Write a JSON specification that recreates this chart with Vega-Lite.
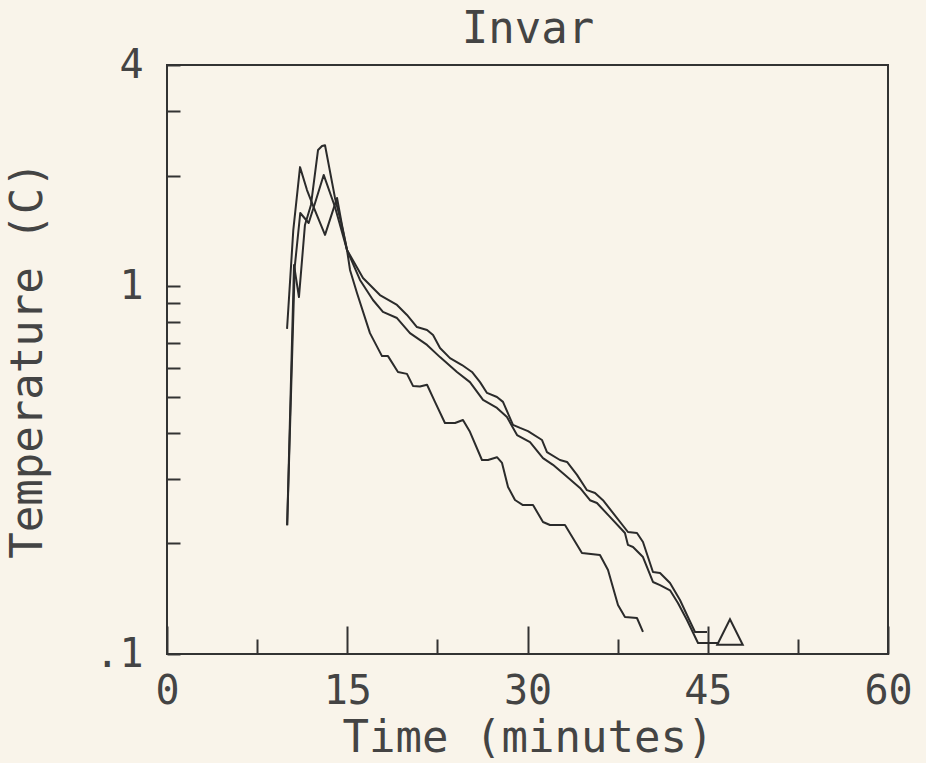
{
  "$schema": "https://vega.github.io/schema/vega-lite/v6.json",
  "autosize": {"type": "none"},
  "width": 721,
  "height": 589,
  "padding": {"left": 167, "top": 65, "right": 38, "bottom": 109},
  "background": "#f9f4ea",
  "config": {
    "view": {"stroke": "#333333", "strokeWidth": 2},
    "axis": {
      "labelFont": "DejaVu Sans Mono",
      "titleFont": "DejaVu Sans Mono",
      "labelColor": "#444444",
      "titleColor": "#444444",
      "tickColor": "#333333",
      "tickWidth": 2,
      "grid": false,
      "domain": false,
      "labelFontWeight": "normal",
      "titleFontWeight": "normal"
    }
  },
  "datasets": {
    "curves": [
      {"s": "A", "t": 10.0, "v": 0.224},
      {"s": "A", "t": 10.63, "v": 1.129},
      {"s": "A", "t": 11.09, "v": 1.583},
      {"s": "A", "t": 11.79, "v": 1.487},
      {"s": "A", "t": 12.32, "v": 1.685},
      {"s": "A", "t": 13.04, "v": 2.009},
      {"s": "A", "t": 13.98, "v": 1.644},
      {"s": "A", "t": 14.98, "v": 1.256},
      {"s": "A", "t": 15.23, "v": 1.108},
      {"s": "A", "t": 15.81, "v": 0.959},
      {"s": "A", "t": 16.89, "v": 0.746},
      {"s": "A", "t": 17.89, "v": 0.646},
      {"s": "A", "t": 18.39, "v": 0.646},
      {"s": "A", "t": 19.22, "v": 0.585},
      {"s": "A", "t": 19.97, "v": 0.578},
      {"s": "A", "t": 20.47, "v": 0.536},
      {"s": "A", "t": 21.05, "v": 0.534},
      {"s": "A", "t": 21.64, "v": 0.54},
      {"s": "A", "t": 22.3, "v": 0.485},
      {"s": "A", "t": 23.13, "v": 0.425},
      {"s": "A", "t": 23.97, "v": 0.425},
      {"s": "A", "t": 24.63, "v": 0.433},
      {"s": "A", "t": 25.21, "v": 0.402},
      {"s": "A", "t": 26.21, "v": 0.337},
      {"s": "A", "t": 26.71, "v": 0.337},
      {"s": "A", "t": 27.46, "v": 0.343},
      {"s": "A", "t": 27.88, "v": 0.331},
      {"s": "A", "t": 28.38, "v": 0.2845},
      {"s": "A", "t": 28.96, "v": 0.2623},
      {"s": "A", "t": 29.62, "v": 0.2542},
      {"s": "A", "t": 30.46, "v": 0.2542},
      {"s": "A", "t": 31.29, "v": 0.2286},
      {"s": "A", "t": 31.87, "v": 0.2243},
      {"s": "A", "t": 33.12, "v": 0.2243},
      {"s": "A", "t": 34.53, "v": 0.1883},
      {"s": "A", "t": 36.03, "v": 0.186},
      {"s": "A", "t": 36.7, "v": 0.1693},
      {"s": "A", "t": 37.53, "v": 0.136},
      {"s": "A", "t": 38.11, "v": 0.126},
      {"s": "A", "t": 39.11, "v": 0.1253},
      {"s": "A", "t": 39.61, "v": 0.1148},
      {"s": "B", "t": 10.0, "v": 0.224},
      {"s": "B", "t": 10.57, "v": 1.143},
      {"s": "B", "t": 10.98, "v": 0.935},
      {"s": "B", "t": 11.48, "v": 1.469},
      {"s": "B", "t": 11.98, "v": 1.665},
      {"s": "B", "t": 12.57, "v": 2.349},
      {"s": "B", "t": 12.9, "v": 2.409},
      {"s": "B", "t": 13.15, "v": 2.42},
      {"s": "B", "t": 13.98, "v": 1.74},
      {"s": "B", "t": 14.48, "v": 1.496},
      {"s": "B", "t": 14.98, "v": 1.256},
      {"s": "B", "t": 16.06, "v": 1.041},
      {"s": "B", "t": 17.14, "v": 0.918},
      {"s": "B", "t": 17.97, "v": 0.852},
      {"s": "B", "t": 19.14, "v": 0.82},
      {"s": "B", "t": 20.22, "v": 0.746},
      {"s": "B", "t": 21.64, "v": 0.693},
      {"s": "B", "t": 22.72, "v": 0.642},
      {"s": "B", "t": 24.13, "v": 0.585},
      {"s": "B", "t": 25.21, "v": 0.549},
      {"s": "B", "t": 26.3, "v": 0.491},
      {"s": "B", "t": 27.46, "v": 0.467},
      {"s": "B", "t": 28.29, "v": 0.441},
      {"s": "B", "t": 29.13, "v": 0.394},
      {"s": "B", "t": 30.21, "v": 0.377},
      {"s": "B", "t": 31.29, "v": 0.341},
      {"s": "B", "t": 32.12, "v": 0.327},
      {"s": "B", "t": 33.12, "v": 0.307},
      {"s": "B", "t": 34.37, "v": 0.283},
      {"s": "B", "t": 35.2, "v": 0.262},
      {"s": "B", "t": 35.78, "v": 0.2574},
      {"s": "B", "t": 36.86, "v": 0.236},
      {"s": "B", "t": 38.11, "v": 0.2134},
      {"s": "B", "t": 38.36, "v": 0.198},
      {"s": "B", "t": 38.78, "v": 0.1954},
      {"s": "B", "t": 39.61, "v": 0.1835},
      {"s": "B", "t": 40.44, "v": 0.157},
      {"s": "B", "t": 41.03, "v": 0.154},
      {"s": "B", "t": 41.86, "v": 0.149},
      {"s": "B", "t": 42.52, "v": 0.1376},
      {"s": "B", "t": 43.27, "v": 0.1237},
      {"s": "B", "t": 44.19, "v": 0.1071},
      {"s": "B", "t": 45.86, "v": 0.1071},
      {"s": "C", "t": 9.99, "v": 0.766},
      {"s": "C", "t": 10.51, "v": 1.423},
      {"s": "C", "t": 11.07, "v": 2.11},
      {"s": "C", "t": 11.65, "v": 1.828},
      {"s": "C", "t": 12.21, "v": 1.64},
      {"s": "C", "t": 13.15, "v": 1.38},
      {"s": "C", "t": 14.15, "v": 1.74},
      {"s": "C", "t": 14.56, "v": 1.469},
      {"s": "C", "t": 14.98, "v": 1.256},
      {"s": "C", "t": 16.31, "v": 1.054},
      {"s": "C", "t": 17.72, "v": 0.947},
      {"s": "C", "t": 19.14, "v": 0.89},
      {"s": "C", "t": 19.97, "v": 0.836},
      {"s": "C", "t": 20.8, "v": 0.775},
      {"s": "C", "t": 21.64, "v": 0.761},
      {"s": "C", "t": 22.14, "v": 0.737},
      {"s": "C", "t": 22.72, "v": 0.68},
      {"s": "C", "t": 23.55, "v": 0.638},
      {"s": "C", "t": 24.55, "v": 0.611},
      {"s": "C", "t": 25.38, "v": 0.585},
      {"s": "C", "t": 26.05, "v": 0.549},
      {"s": "C", "t": 26.63, "v": 0.513},
      {"s": "C", "t": 27.46, "v": 0.5},
      {"s": "C", "t": 27.96, "v": 0.485},
      {"s": "C", "t": 28.79, "v": 0.42},
      {"s": "C", "t": 29.38, "v": 0.412},
      {"s": "C", "t": 30.04, "v": 0.404},
      {"s": "C", "t": 31.21, "v": 0.382},
      {"s": "C", "t": 31.62, "v": 0.354},
      {"s": "C", "t": 32.7, "v": 0.337},
      {"s": "C", "t": 33.29, "v": 0.333},
      {"s": "C", "t": 34.12, "v": 0.307},
      {"s": "C", "t": 34.95, "v": 0.279},
      {"s": "C", "t": 35.62, "v": 0.274},
      {"s": "C", "t": 36.28, "v": 0.262},
      {"s": "C", "t": 37.11, "v": 0.242},
      {"s": "C", "t": 38.36, "v": 0.2147},
      {"s": "C", "t": 39.11, "v": 0.2134},
      {"s": "C", "t": 39.61, "v": 0.2016},
      {"s": "C", "t": 40.44, "v": 0.1671},
      {"s": "C", "t": 41.03, "v": 0.1661},
      {"s": "C", "t": 41.86, "v": 0.156},
      {"s": "C", "t": 42.69, "v": 0.1402},
      {"s": "C", "t": 43.27, "v": 0.1277},
      {"s": "C", "t": 43.94, "v": 0.1148},
      {"s": "C", "t": 44.94, "v": 0.1148}
    ],
    "markers": [
      {"s": "B", "t": 46.85, "v": 0.1148}
    ]
  },
  "layer": [
    {
      "data": {"name": "curves"},
      "mark": {"type": "line", "stroke": "#2b2b2b", "strokeWidth": 2, "strokeJoin": "round"},
      "encoding": {
        "x": {
          "field": "t", "type": "quantitative",
          "scale": {"domain": [0, 60], "nice": false, "zero": false},
          "axis": {
            "values": [0, 15, 30, 45, 60],
            "tickSize": -28,
            "labelPadding": 45,
            "labelFontSize": 40,
            "labelFlush": false,
            "labelBaseline": "top",
            "title": "Time (minutes)",
            "titleFontSize": 44,
            "titleBaseline": "alphabetic",
            "titleY": 97
          }
        },
        "y": {
          "field": "v", "type": "quantitative",
          "scale": {"type": "log", "domain": [0.1, 4], "nice": false},
          "axis": {
            "values": [0.1, 0.2, 0.3, 0.4, 0.5, 0.6, 0.7, 0.8, 0.9, 1, 2, 3, 4],
            "tickSize": -13,
            "labelPadding": 37,
            "labelFontSize": 40,
            "labelFlush": false,
            "labelBaseline": "middle",
            "labelExpr": "datum.value < 0.15 ? '.1' : (datum.value == 1 ? '1' : (datum.value == 4 ? '4' : ''))",
            "title": "Temperature (C)",
            "titleFontSize": 44,
            "titleBaseline": "alphabetic",
            "titleAngle": 270,
            "titleX": -126
          }
        },
        "detail": {"field": "s"}
      }
    },
    {
      "data": {"name": "curves"},
      "mark": {"type": "rule", "opacity": 0},
      "encoding": {
        "x": {
          "datum": 7.5, "type": "quantitative",
          "axis": {
            "orient": "bottom",
            "values": [7.5, 22.5, 37.5, 52.5],
            "tickSize": -15,
            "labels": false,
            "title": null
          }
        }
      }
    },
    {
      "data": {"name": "curves"},
      "mark": {"type": "rule", "opacity": 0},
      "encoding": {
        "x": {
          "datum": 30, "type": "quantitative",
          "axis": {
            "orient": "top",
            "ticks": false,
            "labels": false,
            "title": "Invar",
            "titleFontSize": 44,
            "titleBaseline": "alphabetic",
            "titleY": -23
          }
        }
      }
    },
    {
      "data": {"name": "markers"},
      "mark": {
        "type": "point",
        "shape": "M0,-1L1,1L-1,1Z",
        "filled": false,
        "stroke": "#2b2b2b",
        "strokeWidth": 2,
        "size": 650,
        "opacity": 1
      },
      "encoding": {
        "x": {"field": "t", "type": "quantitative", "axis": null},
        "y": {"field": "v", "type": "quantitative"}
      }
    }
  ],
  "resolve": {"axis": {"x": "independent"}}
}
